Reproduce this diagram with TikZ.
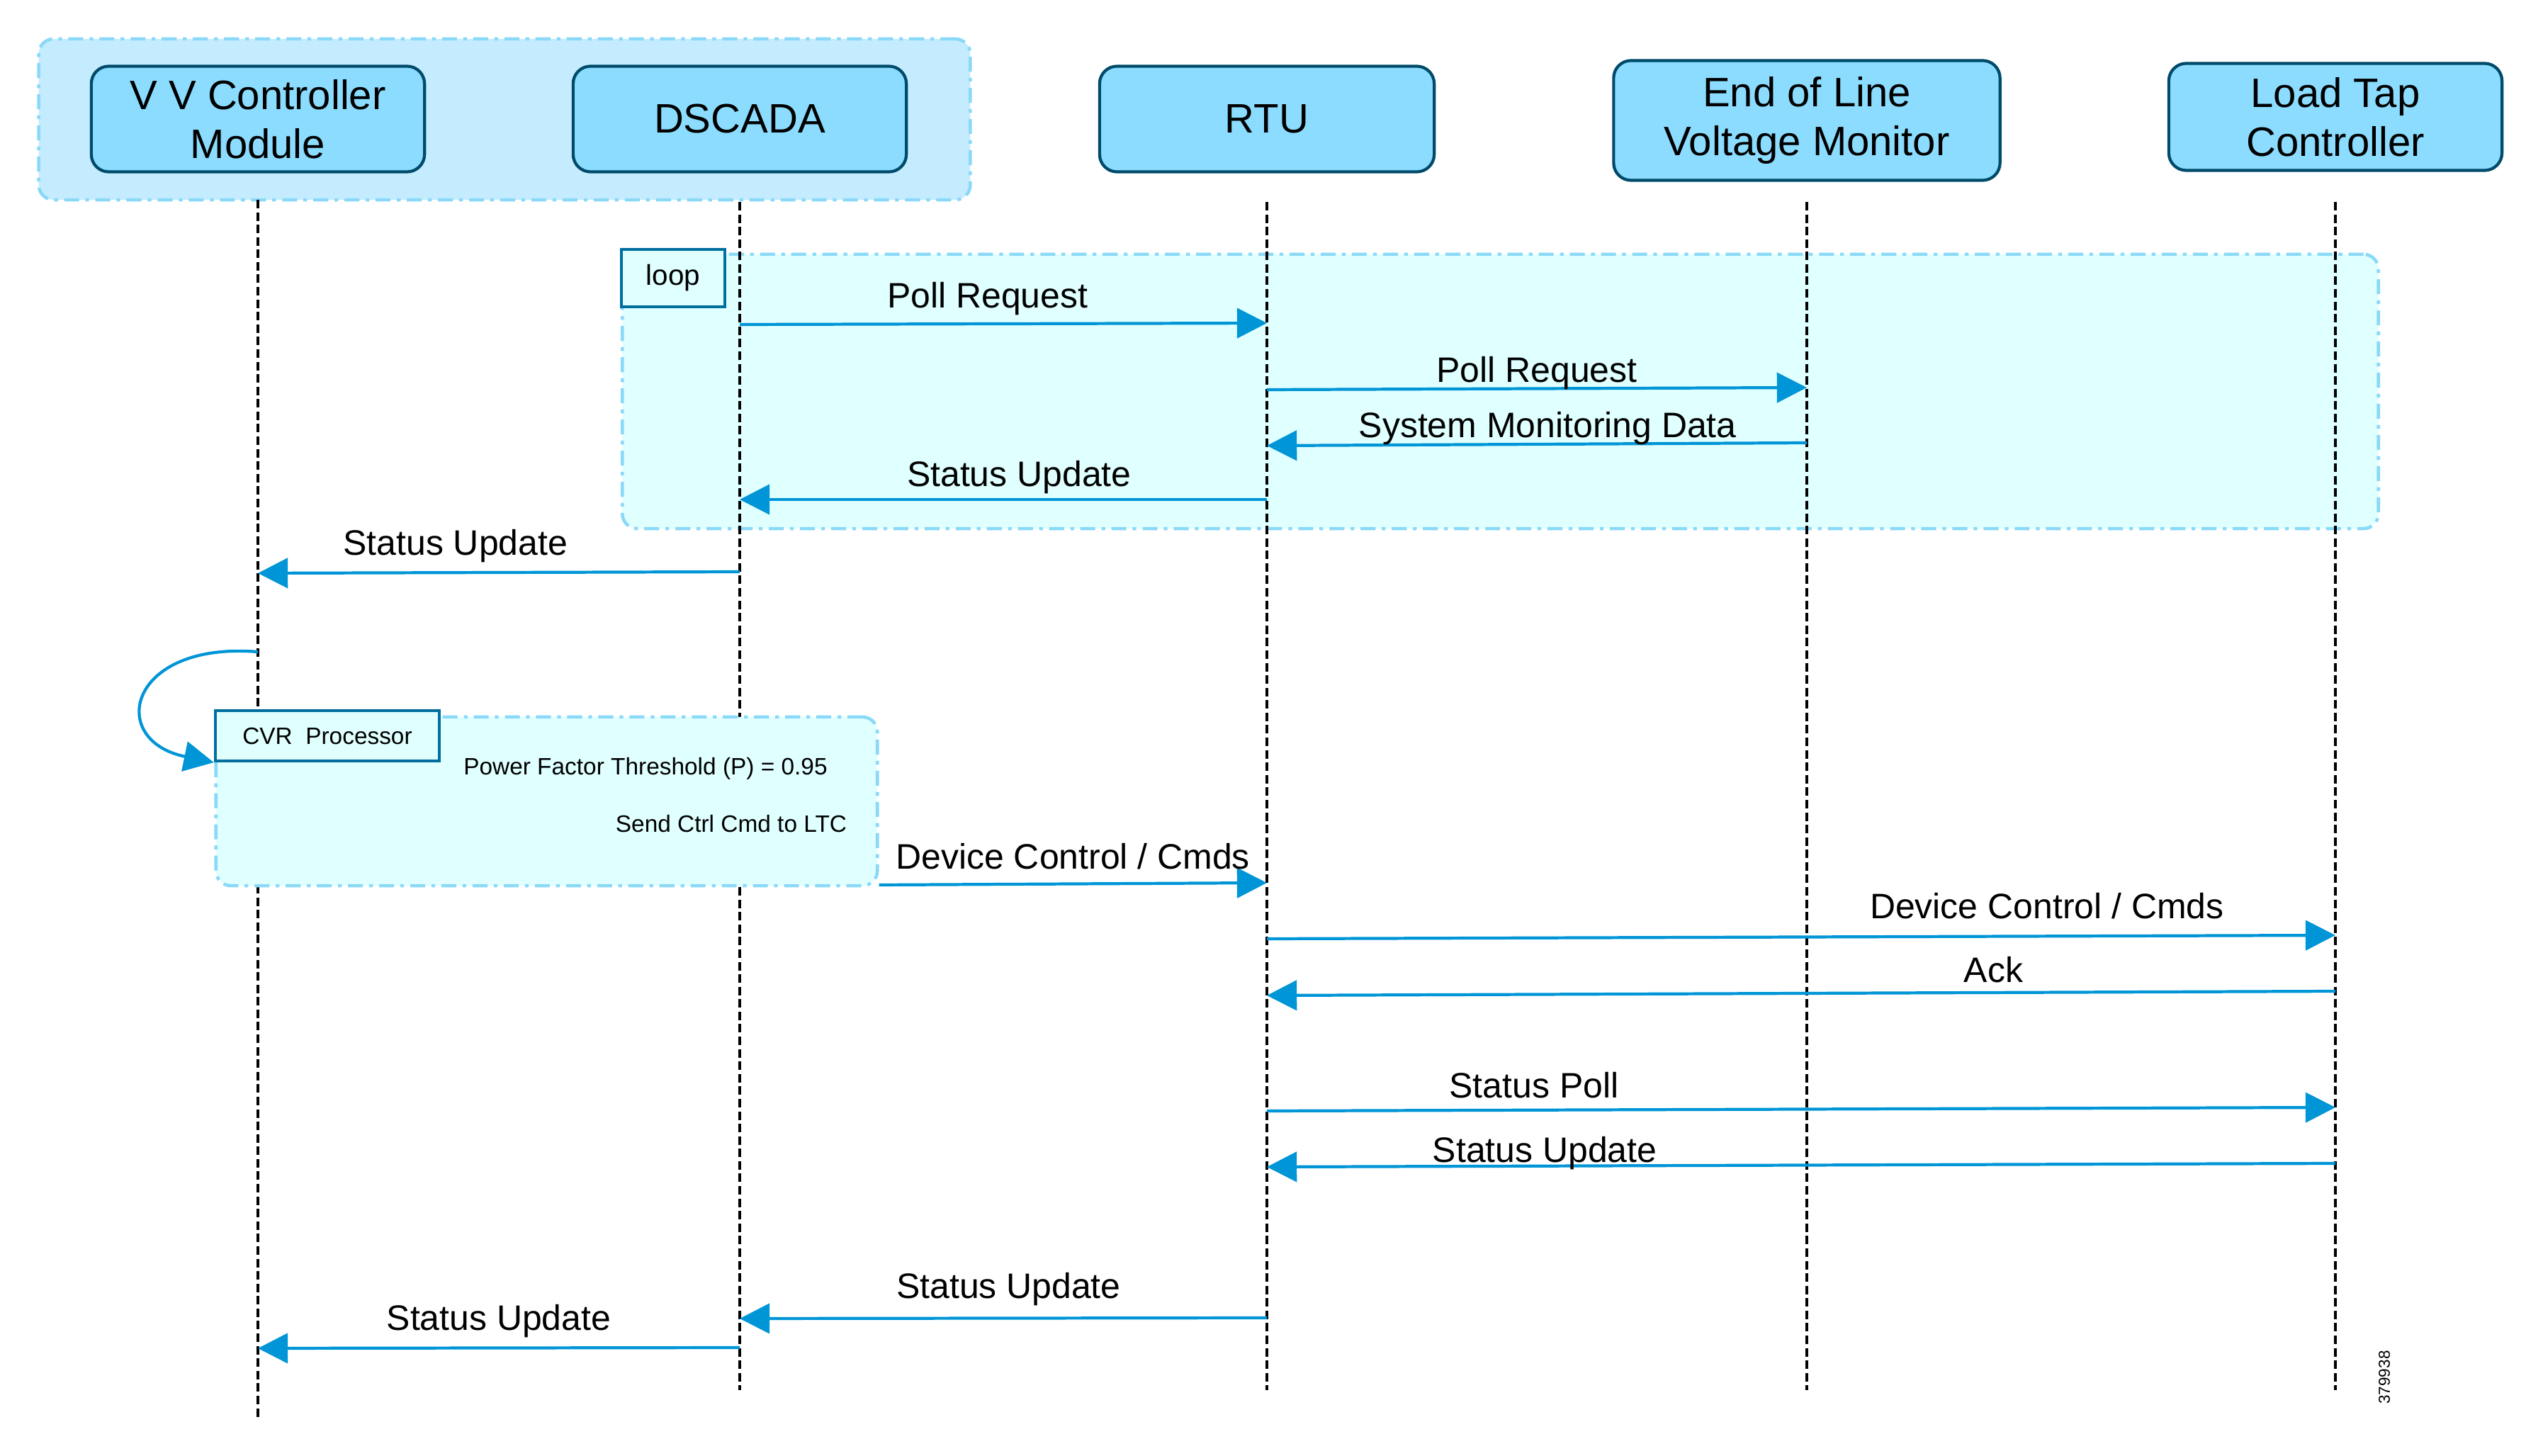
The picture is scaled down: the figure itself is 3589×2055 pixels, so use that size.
\documentclass[tikz,border=0pt]{standalone}
\usepackage{fontspec}
\setmainfont{Liberation Sans}
\usetikzlibrary{arrows.meta}
\definecolor{PartFill}{HTML}{8BDCFE}
\definecolor{PartLine}{HTML}{004A6A}
\definecolor{GroupFill}{HTML}{C4ECFE}
\definecolor{FrameLine}{HTML}{8AD9F8}
\definecolor{LoopFill}{HTML}{E0FFFF}
\definecolor{TagLine}{HTML}{006F9E}
\definecolor{MsgBlue}{HTML}{0095D6}
\tikzset{
  part/.style={draw=PartLine, line width=1.2pt, fill=PartFill, rounded corners=7pt, align=center, minimum width=4.7cm, minimum height=1.49cm, inner sep=0pt, font=\fontsize{16.5}{19.5}\selectfont},
  frame/.style={draw=FrameLine, line width=1.3pt, dash pattern=on 6pt off 2.5pt on 1.5pt off 2.5pt, rounded corners=6pt, inner sep=0pt},
  tag/.style={draw=TagLine, line width=1.2pt, fill=LoopFill, inner sep=0pt},
  lifeline/.style={draw=black, line width=1.05pt, dash pattern=on 3.4pt off 1.6pt},
  msg/.style={draw=MsgBlue, line width=1.2pt, -{Triangle[length=12pt,width=12pt]}},
  lbl/.style={font=\fontsize{14.2}{17}\selectfont, anchor=base, inner sep=0pt},
  notetxt/.style={font=\fontsize{9.5}{11}\selectfont, inner sep=0pt},
}
\begin{document}
\begin{tikzpicture}[x=0.01cm, y=-0.01cm]
  \useasboundingbox (0,0) rectangle (3589,2055);
  % frames behind the lifelines
  \node[frame, fill=GroupFill, minimum width=13.14cm, minimum height=2.27cm] (grp) at (712,168.5) {};
  \node[frame, fill=LoopFill, minimum width=24.77cm, minimum height=3.87cm] (loopbox) at (2117.5,552.5) {};
  \node[tag, minimum width=1.46cm, minimum height=0.81cm, font=\fontsize{11.5}{14}\selectfont] (looptag) at (950,392.5) {loop};

  \node[part] (vv) at (364,168) {V V Controller\\Module};
  \node[part] (dscada) at (1044,168) {DSCADA};
  \node[part, minimum width=4.72cm] (rtu) at (1788,168) {RTU};
  \node[part, minimum width=5.45cm, minimum height=1.69cm] (eol) at (2550,170) {End of Line\\Voltage Monitor};
  \node[part, minimum height=1.51cm] (ltc) at (3296,165) {Load Tap\\Controller};

  \draw[lifeline] (vv |- 0,282) -- (vv |- 0,2003);
  \foreach \p in {dscada, rtu, eol, ltc}
    \draw[lifeline] (\p |- 0,285) -- (\p |- 0,1962);

  % polling loop
  \draw[msg] (dscada |- 0,458) -- (rtu |- 0,456) node[lbl, pos=0.47, yshift=6.5pt] {Poll Request};
  \draw[msg] (rtu |- 0,550) -- (eol |- 0,547) node[lbl, pos=0.5, yshift=2.6pt] {Poll Request};
  \draw[msg] (eol |- 0,625) -- (rtu |- 0,629) node[lbl, pos=0.48, yshift=2.6pt] {System Monitoring Data};
  \draw[msg] (rtu |- 0,705) -- (dscada |- 0,705) node[lbl, pos=0.47, yshift=5.4pt] {Status Update};
  \draw[msg] (dscada |- 0,807) -- (vv |- 0,809) node[lbl, pos=0.59, yshift=7pt] {Status Update};

  % CVR processing
  \node[frame, fill=LoopFill, minimum width=9.33cm, minimum height=2.38cm] (cvr) at (771.5,1131) {};
  \node[tag, minimum width=3.16cm, minimum height=0.71cm, font=\fontsize{9.5}{11}\selectfont] (cvrtag) at (462,1038.5) {CVR\ \ Processor};
  \draw[msg] (vv |- 0,920) .. controls (180,905) and (150,1045) .. (cvrtag.south west);
  \node[notetxt] (pft) at (911,1085) {Power Factor Threshold (P) = 0.95};
  \node[notetxt] (sendcmd) at (1032,1163) {Send Ctrl Cmd to LTC};

  % control and status
  \draw[msg] (cvr.east |- 0,1249) -- (rtu |- 0,1246) node[lbl, pos=0.5, yshift=6pt] {Device Control / Cmds};
  \draw[msg] (rtu |- 0,1325) -- (ltc |- 0,1320) node[lbl, pos=0.73, yshift=7pt] {Device Control / Cmds};
  \draw[msg] (ltc |- 0,1399) -- (rtu |- 0,1405) node[lbl, pos=0.32, yshift=4pt] {Ack};
  \draw[msg] (rtu |- 0,1568) -- (ltc |- 0,1563) node[lbl, pos=0.25, yshift=4.8pt] {Status Poll};
  \draw[msg] (ltc |- 0,1642) -- (rtu |- 0,1647) node[lbl, pos=0.74, yshift=1.5pt] {Status Update};
  \draw[msg] (rtu |- 0,1860) -- (dscada |- 0,1861) node[lbl, pos=0.49, yshift=8pt] {Status Update};
  \draw[msg] (dscada |- 0,1902) -- (vv |- 0,1903) node[lbl, pos=0.5, yshift=7pt] {Status Update};

  \node[rotate=90, font=\fontsize{6.4}{7}\selectfont, inner sep=0pt] (fignum) at (3365,1944) {379938};
\end{tikzpicture}
\end{document}
